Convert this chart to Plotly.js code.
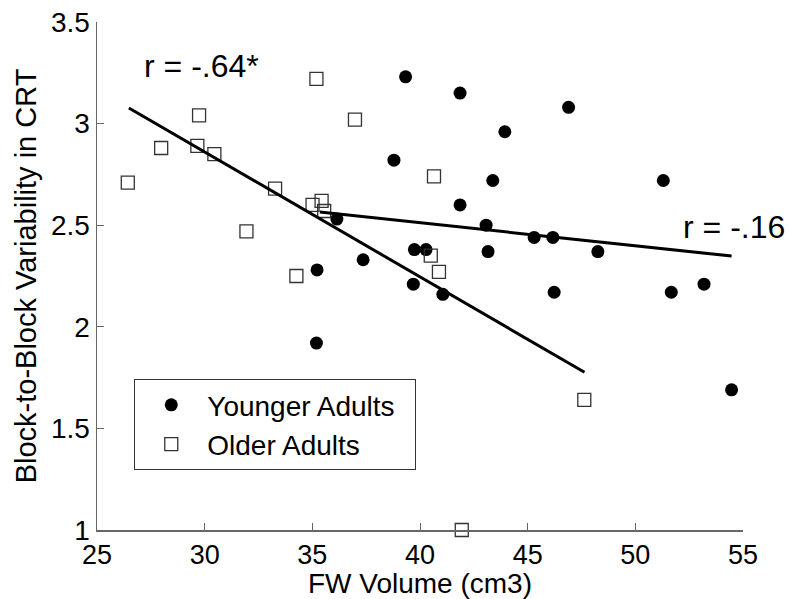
<!DOCTYPE html>
<html>
<head>
<meta charset="utf-8">
<script src="https://cdn.plot.ly/plotly-3.0.1.min.js"></script>
<style>html,body{margin:0;padding:0;background:#fff;}#chart{width:790px;height:599px;}</style>
</head>
<body>
<div id="chart"></div>
<script>
// Younger adults (filled circles)
const youngerX = [39.33, 41.86, 46.90, 43.94, 38.79, 43.38, 51.30, 41.86, 36.14, 43.07, 45.30, 46.17, 39.74, 40.28, 43.16, 48.26, 37.36, 35.22, 39.69, 41.06, 46.23, 51.67, 53.19, 35.19, 54.47];
const youngerY = [3.23, 3.15, 3.08, 2.96, 2.82, 2.72, 2.72, 2.60, 2.53, 2.50, 2.44, 2.44, 2.38, 2.38, 2.37, 2.37, 2.33, 2.28, 2.21, 2.16, 2.17, 2.17, 2.21, 1.92, 1.69];
// Older adults (open squares)
const olderX = [35.19, 29.74, 36.98, 27.98, 29.66, 30.45, 40.65, 26.43, 33.27, 35.01, 35.43, 35.55, 31.94, 40.50, 40.88, 34.26, 47.63, 41.94];
const olderY = [3.22, 3.04, 3.02, 2.88, 2.89, 2.85, 2.74, 2.71, 2.68, 2.60, 2.62, 2.57, 2.47, 2.35, 2.27, 2.25, 1.64, 1.00];
// Regression line endpoints
const fitOlderX = [26.48, 47.64];
const fitOlderY = [3.077, 1.776];
const fitYoungerX = [35.35, 54.47];
const fitYoungerY = [2.565, 2.348];
// Labels
const seriesNames = ["Younger Adults", "Older Adults"];
const rLabels = ["r = -.64*", "r = -.16"];
const rLabelX = [29.84, 54.56];
const rLabelY = [3.285, 2.49];
const xTitle = "FW Volume (cm3)";
const yTitle = "Block-to-Block Variability in CRT";

const FONT = "Liberation Sans, Arial, Helvetica, sans-serif";
const PAD = "\u00a0\u00a0";

const traces = [
  {
    x: youngerX, y: youngerY, type: "scatter", mode: "markers", name: seriesNames[0] + PAD,
    marker: {symbol: "circle", size: 13, color: "#000000", line: {width: 0}},
    cliponaxis: false
  },
  {
    x: olderX, y: olderY, type: "scatter", mode: "markers", name: seriesNames[1],
    marker: {symbol: "square-open", size: 13, color: "#333333", line: {width: 1.3}},
    cliponaxis: false
  },
  {
    x: fitOlderX, y: fitOlderY, type: "scatter", mode: "lines", showlegend: false,
    line: {color: "#000000", width: 3}, hoverinfo: "skip"
  },
  {
    x: fitYoungerX, y: fitYoungerY, type: "scatter", mode: "lines", showlegend: false,
    line: {color: "#000000", width: 3}, hoverinfo: "skip"
  }
];

const layout = {
  width: 790, height: 599,
  margin: {l: 97, r: 47, t: 22, b: 69, pad: 0},
  paper_bgcolor: "#ffffff", plot_bgcolor: "#ffffff",
  font: {family: FONT, color: "#000000", size: 28},
  showlegend: true,
  legend: {
    x: 0.0577, y: 0.297, xanchor: "left", yanchor: "top",
    bordercolor: "#333333", borderwidth: 1, bgcolor: "#ffffff",
    font: {family: FONT, size: 28, color: "#000000"},
    itemwidth: 62,
    tracegroupgap: 0
  },
  xaxis: {
    range: [25, 55], dtick: 5, tick0: 25,
    showline: true, linecolor: "#666666", linewidth: 1.5,
    ticks: "inside", ticklen: 7, tickcolor: "#666666", tickwidth: 1,
    showgrid: false, zeroline: false, mirror: false,
    tickfont: {family: FONT, size: 27, color: "#000000"},
    title: {text: xTitle, font: {family: FONT, size: 28, color: "#000000"}, standoff: 6}
  },
  yaxis: {
    range: [1, 3.5], dtick: 0.5, tick0: 1,
    showline: true, linecolor: "#666666", linewidth: 1.5,
    ticks: "inside", ticklen: 7, tickcolor: "#666666", tickwidth: 1,
    showgrid: false, zeroline: false, mirror: false,
    tickfont: {family: FONT, size: 28, color: "#000000"},
    title: {text: yTitle, font: {family: FONT, size: 29, color: "#000000"}, standoff: 6}
  },
  annotations: rLabels.map((t, i) => ({
    x: rLabelX[i], y: rLabelY[i], xref: "x", yref: "y", text: t, showarrow: false,
    xanchor: "center", yanchor: "middle",
    font: {family: FONT, size: 32, color: "#000000"}
  }))
};

Plotly.newPlot("chart", traces, layout, {displayModeBar: false, staticPlot: true});
</script>
</body>
</html>
